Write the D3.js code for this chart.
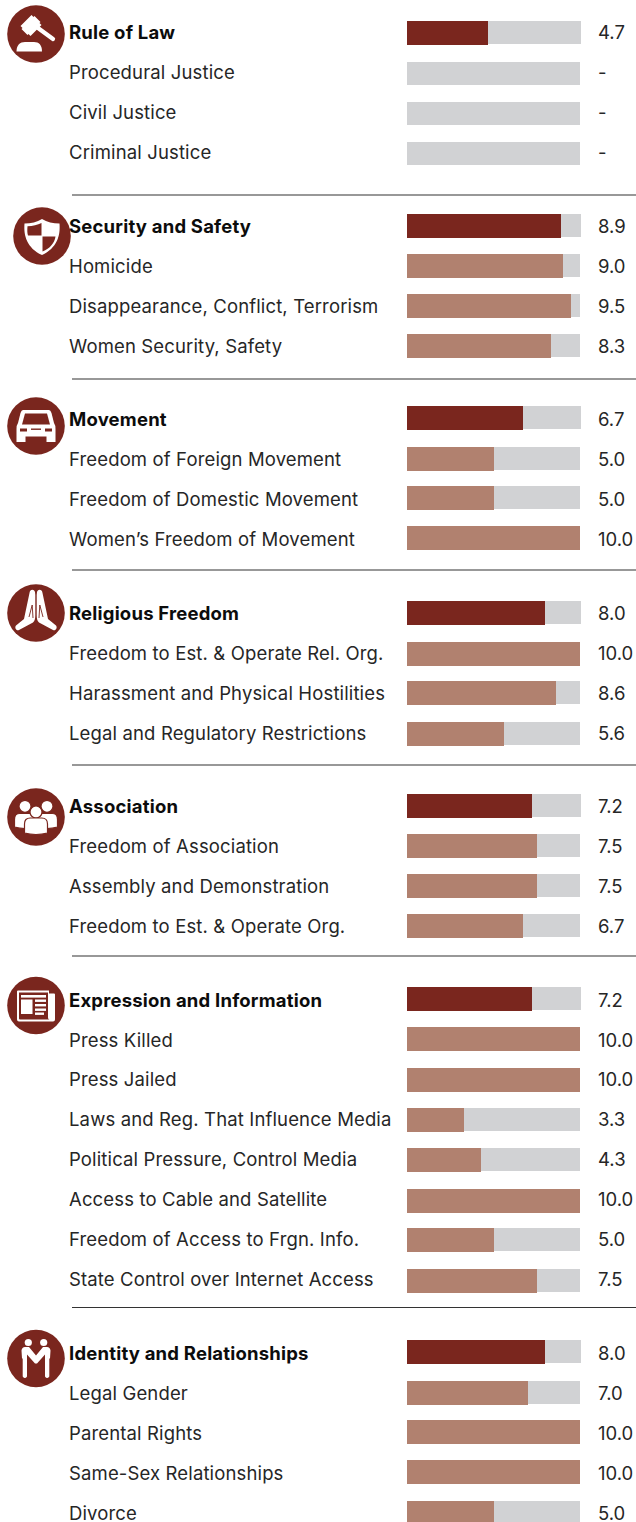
<!DOCTYPE html>
<html><head><meta charset="utf-8">
<script src="https://cdn.jsdelivr.net/npm/d3@7/dist/d3.min.js"></script>
<style>html,body{margin:0;padding:0;background:#fff}svg{display:block}</style>
</head><body><div id="chart"></div>
<script>
const sectionNames = ["Rule of Law","Security and Safety","Movement","Religious Freedom","Association","Expression and Information","Identity and Relationships"];
const sectionScores = [4.7,8.9,6.7,8.0,7.2,7.2,8.0];
const ruleLabels = ["Procedural Justice","Civil Justice","Criminal Justice"];
const ruleValues = [null,null,null];
const securityLabels = ["Homicide","Disappearance, Conflict, Terrorism","Women Security, Safety"];
const securityValues = [9.0,9.5,8.3];
const movementLabels = ["Freedom of Foreign Movement","Freedom of Domestic Movement","Women’s Freedom of Movement"];
const movementValues = [5.0,5.0,10.0];
const religionLabels = ["Freedom to Est. & Operate Rel. Org.","Harassment and Physical Hostilities","Legal and Regulatory Restrictions"];
const religionValues = [10.0,8.6,5.6];
const associationLabels = ["Freedom of Association","Assembly and Demonstration","Freedom to Est. & Operate Org."];
const associationValues = [7.5,7.5,6.7];
const expressionLabels = ["Press Killed","Press Jailed","Laws and Reg. That Influence Media","Political Pressure, Control Media","Access to Cable and Satellite","Freedom of Access to Frgn. Info.","State Control over Internet Access"];
const expressionValues = [10.0,10.0,3.3,4.3,10.0,5.0,7.5];
const identityLabels = ["Legal Gender","Parental Rights","Same-Sex Relationships","Divorce"];
const identityValues = [7.0,10.0,10.0,5.0];

const allLabels = [ruleLabels,securityLabels,movementLabels,religionLabels,associationLabels,expressionLabels,identityLabels];
const allValues = [ruleValues,securityValues,movementValues,religionValues,associationValues,expressionValues,identityValues];

// layout (kept apart from the data)
const W = 636, H = 1522;
const DARK = "#7a261e", MID = "#b1816f", TRACK = "#d1d2d4";
const barTops = [21,62,102,142, 214,254,294,334, 406,447,486,526, 601,642,681,722, 794,834,874,914, 987,1027,1068,1108,1148,1189,1228,1269, 1340,1381,1420,1460,1501];
const textMids = [32,72,112,152, 226,266,306,346, 419,459,499,539, 613,653,693,733, 806,846,886,926, 1000,1040,1079,1119,1159,1199,1239,1279, 1353,1393,1433,1473,1513];
const ruleYs = [195,379,570,765,956,1307.5];
const iconC = [[36,34],[42,236],[36,426],[36,613],[36,817],[36,1005.5],[36,1358.5]];
const FONT = "Inter, sans-serif";

const x = d3.scaleLinear().domain([0,10]).range([407,580]);
const svg = d3.select("#chart").append("svg").attr("width",W).attr("height",H).attr("viewBox",`0 0 ${W} ${H}`);

const rows = [];
sectionNames.forEach((name,s)=>{
  rows.push({label:name,value:sectionScores[s],head:true,s});
  allLabels[s].forEach((l,i)=>rows.push({label:l,value:allValues[s][i],head:false,s}));
});
rows.forEach((r,i)=>{ r.top = barTops[i]; r.mid = textMids[i]; });

svg.append("g").selectAll("line").data(ruleYs).join("line")
  .attr("x1",72).attr("x2",W).attr("y1",d=>d).attr("y2",d=>d)
  .attr("stroke","#333").attr("stroke-width",1.2);

const icons = [
 g=>{ // gavel
  g.append("path").attr("d","M-19.5 17.5 C-19.5 11 -16 8 -11 8 L-2 8 C3 8 6 11 6 17.5 Z").attr("fill","#fff");
  g.append("path").attr("d","M-4 -20 L-2 -18 L-1 -19 L5 -13 L4 -12 L6 -10 L-5 1 L-7 -1 L-8 0 L-14 -6 L-13 -7 L-15 -9 Z").attr("fill","#fff").attr("transform","translate(-0.5,1)");
  g.append("line").attr("x1",2).attr("y1",-6).attr("x2",17).attr("y2",5).attr("stroke","#fff").attr("stroke-width",4.2).attr("stroke-linecap","round");
 },
 g=>{ // shield
  g.append("path").attr("d","M0 -17 C5 -14 11 -12.5 17.5 -12.5 C18.5 0 15 12 0 19 C-15 12 -18.5 0 -17.5 -12.5 C-11 -12.5 -5 -14 0 -17 Z").attr("fill","#fff");
  g.append("path").attr("d","M-0.5 -13 L-0.5 -0.5 L-14 -0.5 C-14.8 -3 -14.8 -6 -14.5 -9.8 C-9 -10 -4.5 -11 -0.5 -13 Z").attr("fill",DARK);
  g.append("path").attr("d","M0.5 0.5 L13.5 0.5 C12.5 7 8 12.5 0.5 15.5 Z").attr("fill",DARK);
 },
 g=>{ // car
  g.append("path").attr("d","M-13 -16 Q-14.5 -16 -15.5 -13 L-18 -3 Q-19.5 -1 -19.5 3 L-19.5 16 L-10.5 16 L-10.5 10.5 L10.5 10.5 L10.5 16 L19.5 16 L19.5 3 Q19.5 -1 18 -3 L15.5 -13 Q14.5 -16 13 -16 Z").attr("fill","#fff");
  g.append("path").attr("d","M-11 -12.5 L11 -12.5 L14 -1.5 L-14 -1.5 Z").attr("fill",DARK);
  g.selectAll("rect.c").data([[-16,4,7],[-5,4,10],[9,4,7]]).join("rect").attr("x",d=>d[0]).attr("y",d=>d[1]-1.5).attr("width",d=>d[2]).attr("height",d=>d[0]===-5?1.4:3).attr("fill",DARK);
 },
 g=>{ // praying hands
  g.append("path").attr("d","M-1 -21 C-2 -24 -6 -24 -6.5 -20 L-12 6 L-20 12.5 C-22 15 -19 18.5 -17 17 L-3 9.5 C-1 8 -0.7 5 -0.7 2 L-0.7 -18 Z").attr("fill","#fff");
  g.append("path").attr("d","M1 -21 C2 -24 6 -24 6.5 -20 L12 6 L20 12.5 C22 15 19 18.5 17 17 L3 9.5 C1 8 0.7 5 0.7 2 L0.7 -18 Z").attr("fill","#fff");
  g.append("path").attr("d","M-7 4 L-3.8 -8 L-3 5 M7 4 L3.8 -8 L3 5").attr("stroke",DARK).attr("stroke-width",0.9).attr("fill","none");
 },
 g=>{ // three people
  const person=(cx,cy,r,bw,by,bb)=>{
    g.append("circle").attr("cx",cx).attr("cy",cy).attr("r",r+1).attr("fill","#fff").attr("stroke",DARK).attr("stroke-width",1.2);
    g.append("path").attr("d",`M${cx-bw} ${bb} L${cx-bw} ${by+6} Q${cx-bw} ${by} ${cx-bw/2} ${by} L${cx+bw/2} ${by} Q${cx+bw} ${by} ${cx+bw} ${by+6} L${cx+bw} ${bb} Q${cx} ${bb+3} ${cx-bw} ${bb} Z`).attr("fill","#fff").attr("stroke",DARK).attr("stroke-width",1.2);
  };
  person(-11,-10.7,5,10.5,-3.5,10);
  person(11,-10.7,5,10.5,-3.5,10);
  person(0,-5,5,11.5,1,16);
 },
 g=>{ // newspaper
  g.append("path").attr("d","M-19 -14 Q-19 -15 -18 -15 L13 -15 L13 -12 L18 -12 Q19 -12 19 -11 L19 14 Q19 16 17 16 L-17 16 Q-19 16 -19 14 Z").attr("fill","#fff");
  g.append("path").attr("d","M-17 -13 L12 -13 L12 12 Q12 14 13.5 14 L-16 14 Q-17 14 -17 13 Z").attr("fill",DARK);
  g.append("rect").attr("x",-15).attr("y",-10.5).attr("width",25).attr("height",2.6).attr("fill","#fff");
  g.append("rect").attr("x",-15).attr("y",-6).attr("width",11.5).attr("height",14.5).attr("fill","#fff");
  g.selectAll("rect.l").data([-6,-1.5,3,7]).join("rect").attr("x",-1).attr("y",d=>d).attr("width",d=>d===7?9:11).attr("height",2.4).attr("fill","#fff");
 },
 g=>{ // two people handshake
  g.append("circle").attr("cx",-7.7).attr("cy",-16).attr("r",3.6).attr("fill","#fff");
  g.append("circle").attr("cx",7.7).attr("cy",-16).attr("r",3.6).attr("fill","#fff");
  g.append("path").attr("d","M-14.5 -8 Q-14 -11.5 -11 -11.5 L-7 -11.5 L0 -3 L7 -11.5 L11 -11.5 Q14 -11.5 14.5 -8 L14 0 L13.3 0 L13.3 18 Q11 21 9 18 L9 -4 L1 5 L-1 5 L-9 -4 L-9 18 Q-11 21 -13.3 18 L-13.3 0 L-14 0 Z").attr("fill","#fff");
 }
];
const ig = svg.append("g").selectAll("g").data(iconC).join("g").attr("transform",d=>`translate(${d[0]},${d[1]})`);
ig.append("circle").attr("r",28.8).attr("fill",DARK);
ig.each(function(d,i){ icons[i](d3.select(this)); });

svg.append("g").selectAll("rect").data(rows).join("rect")
  .attr("x",x(0)).attr("y",d=>d.top).attr("height",23)
  .attr("width",d=>x(10)-x(0)+(d.head?1:0)).attr("fill",TRACK);
svg.append("g").selectAll("rect").data(rows.filter(d=>d.value!==null)).join("rect")
  .attr("x",x(0)).attr("y",d=>d.top).attr("height",24)
  .attr("width",d=>Math.round(x(d.value)-x(0))).attr("fill",d=>d.head?DARK:MID);
svg.append("g").selectAll("text").data(rows).join("text")
  .attr("x",69).attr("y",d=>d.mid+6.8).text(d=>d.label)
  .attr("font-family",FONT).attr("font-size",18.5).attr("font-weight",d=>d.head?700:400)
  .attr("letter-spacing",d=>d.head?0.2:0.14)
  .attr("fill",d=>d.head?"#0c0c0c":"#262626");
svg.append("g").selectAll("text").data(rows).join("text")
  .attr("x",598).attr("y",d=>d.mid+6.8).text(d=>d.value===null?"-":d.value.toFixed(1))
  .attr("font-family",FONT).attr("font-size",18.5).attr("fill","#262626");
</script></body></html>
